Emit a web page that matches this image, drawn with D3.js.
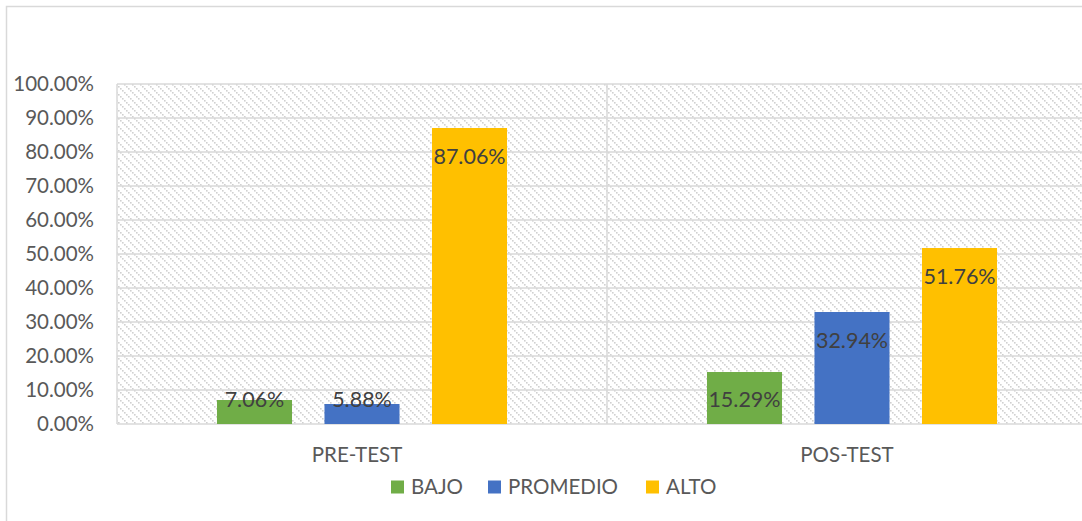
<!DOCTYPE html>
<html>
<head>
<meta charset="utf-8">
<script src="https://cdn.jsdelivr.net/npm/d3@7"></script>
<style>
  body { margin: 0; background: #fff; }
  svg { display: block; font-family: Lato, "Open Sans", sans-serif; }
</style>
</head>
<body>
<script>
// values
const categories = ["PRE-TEST", "POS-TEST"];
const seriesNames = ["BAJO", "PROMEDIO", "ALTO"];
const seriesColors = ["#70AD47", "#4472C4", "#FFC000"];
const bajo = [7.06, 15.29];
const promedio = [5.88, 32.94];
const alto = [87.06, 51.76];
const yTicks = [0, 10, 20, 30, 40, 50, 60, 70, 80, 90, 100];

const W = 1082, H = 521;
const margin = { left: 117, top: 84, right: -15, bottom: 97 };
const GRID = "#d9d9d9";
const TEXT = "#595959";

const svg = d3.select("body").append("svg")
  .attr("width", W)
  .attr("height", H);

// hatch pattern for the plot background (dotted downward diagonals)
const defs = svg.append("defs");
const pat = defs.append("pattern")
  .attr("id", "hatch")
  .attr("patternUnits", "userSpaceOnUse")
  .attr("width", 8)
  .attr("height", 8);
pat.selectAll("rect")
  .data(d3.range(4))
  .join("rect")
  .attr("x", i => i * 2)
  .attr("y", i => i * 2)
  .attr("width", 1.6)
  .attr("height", 1.6)
  .attr("fill", "#d0d0d0");

// chart area border
svg.append("rect")
  .attr("x", 6.5).attr("y", 6.5)
  .attr("width", W + 50).attr("height", H + 50)
  .attr("fill", "none")
  .attr("stroke", GRID)
  .attr("stroke-width", 1.5);

const x = d3.scaleBand()
  .domain(categories)
  .range([margin.left, W - margin.right]);

const x1 = d3.scaleBand()
  .domain(seriesNames)
  .range([0, x.bandwidth()])
  .paddingInner(0.302)
  .paddingOuter(0.93);

const y = d3.scaleLinear()
  .domain([0, 100])
  .range([H - margin.bottom, margin.top]);

// plot background
svg.append("rect")
  .attr("x", margin.left)
  .attr("y", margin.top)
  .attr("width", W - margin.right - margin.left)
  .attr("height", y(0) - y(100))
  .attr("fill", "url(#hatch)");

// horizontal gridlines
svg.append("g")
  .selectAll("line")
  .data(yTicks)
  .join("line")
  .attr("x1", margin.left)
  .attr("x2", W - margin.right)
  .attr("y1", d => y(d))
  .attr("y2", d => y(d))
  .attr("stroke", GRID)
  .attr("stroke-width", 1.5);

// vertical category separators
const seps = [x.range()[0], ...categories.map(c => x(c) + x.bandwidth())];
svg.append("g")
  .selectAll("line")
  .data(seps)
  .join("line")
  .attr("x1", d => d)
  .attr("x2", d => d)
  .attr("y1", y(100))
  .attr("y2", y(0))
  .attr("stroke", GRID)
  .attr("stroke-width", 1.5);

// y tick labels
svg.append("g")
  .selectAll("text")
  .data(yTicks)
  .join("text")
  .attr("x", 94)
  .attr("y", d => y(d))
  .attr("dy", "0.35em")
  .attr("text-anchor", "end")
  .attr("fill", TEXT)
  .attr("font-size", 20.5)
  .text(d => d3.format(".2f")(d) + "%");

// bars
const table = categories.map((c, i) => ({
  cat: c,
  values: [bajo[i], promedio[i], alto[i]].map((v, k) => ({ key: seriesNames[k], v, color: seriesColors[k] }))
}));

const groups = svg.append("g")
  .selectAll("g")
  .data(table)
  .join("g")
  .attr("transform", d => `translate(${x(d.cat)},0)`);

groups.selectAll("rect")
  .data(d => d.values)
  .join("rect")
  .attr("x", d => x1(d.key))
  .attr("width", x1.bandwidth())
  .attr("y", d => y(d.v))
  .attr("height", d => y(0) - y(d.v))
  .attr("fill", d => d.color);

groups.selectAll("text")
  .data(d => d.values)
  .join("text")
  .attr("x", d => x1(d.key) + x1.bandwidth() / 2)
  .attr("y", d => Math.min(y(d.v) + 28, y(0) - 25))
  .attr("dy", "0.35em")
  .attr("text-anchor", "middle")
  .attr("fill", "#404040")
  .attr("font-size", 21.5)
  .text(d => d3.format(".2f")(d.v) + "%");

// category labels
svg.append("g")
  .selectAll("text")
  .data(categories)
  .join("text")
  .attr("x", d => x(d) + x.bandwidth() / 2 - 5)
  .attr("y", 455)
  .attr("dy", "0.35em")
  .attr("text-anchor", "middle")
  .attr("fill", TEXT)
  .attr("font-size", 20.5)
  .text(d => d);

// legend
const legendX = [391, 488, 646];
const legend = svg.append("g")
  .selectAll("g")
  .data(seriesNames)
  .join("g")
  .attr("transform", (d, i) => `translate(${legendX[i]},487)`);
legend.append("rect")
  .attr("x", 0).attr("y", -6.5)
  .attr("width", 13).attr("height", 13)
  .attr("fill", (d, i) => seriesColors[i]);
legend.append("text")
  .attr("x", 20)
  .attr("dy", "0.35em")
  .attr("fill", TEXT)
  .attr("font-size", 20.5)
  .text(d => d);
</script>
</body>
</html>
